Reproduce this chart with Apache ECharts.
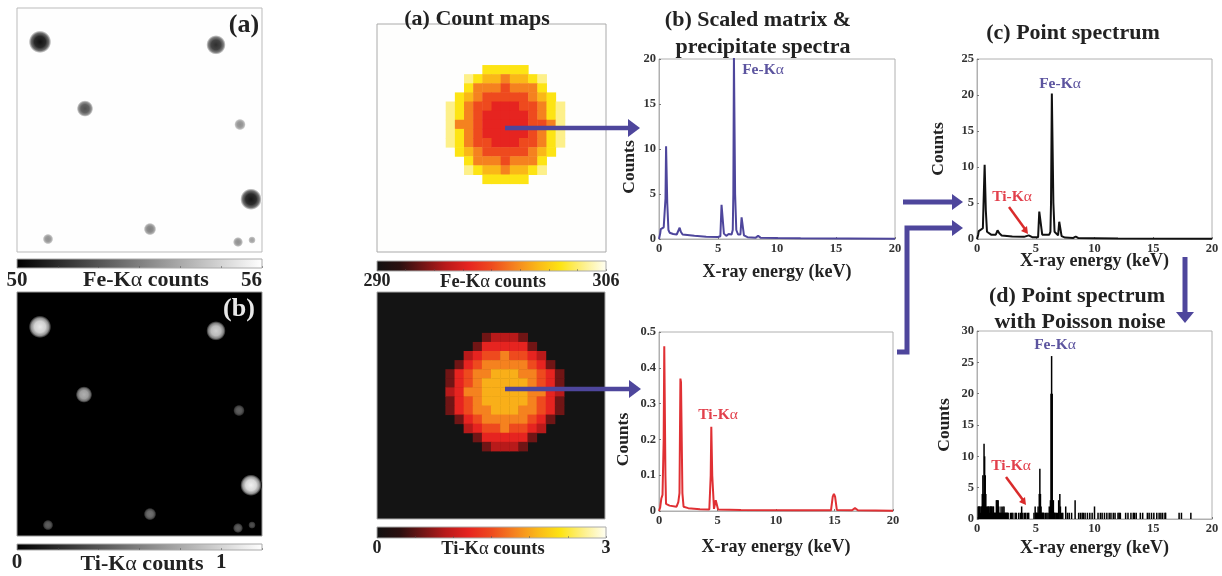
<!DOCTYPE html>
<html><head><meta charset="utf-8">
<style>html,body{margin:0;padding:0;background:#fff}#c{width:1222px;height:576px;filter:blur(0.4px)}</style>
<script src="https://cdn.jsdelivr.net/npm/echarts@6/dist/echarts.min.js"></script>
</head><body><div id="c"></div>
<script>
// ---------- data ----------
// precipitates of the two gray maps: [x, y, radius, peak counts]
const feBlobs = [[23,34,10.5,50.4],[199,37,9,51.1],[68,101,7.5,51.9],[223,117,5,53.4],[234,192,10,50.5],[133,222,5.5,53],[31,232,4.5,53.4],[221,235,4.3,53.4],[235,233,3,53.8]];
const tiBlobs = [[23,35,10.5,1.09],[199,39,9,0.98],[67,103,7.5,0.83],[222,119,5,0.45],[234,194,10,1.13],[133,223,5.5,0.53],[31,234,4.5,0.45],[221,237,4.3,0.45],[235,234,3,0.38]];
// 13x13 count cells around the precipitate (_ = background)
const _ = null, R=296.4, S=298, O=299.6, G=301.2, Y=302.8, P=304.4;
const feRows = [
 [_,_,_,_,Y,Y,Y,Y,Y,_,_,_,_],
 [_,_,P,Y,G,G,O,G,G,Y,P,_,_],
 [_,_,Y,O,O,O,S,O,O,O,Y,_,_],
 [_,Y,G,O,S,S,S,S,S,O,G,Y,_],
 [P,Y,O,S,S,R,R,R,S,S,O,Y,P],
 [P,Y,O,S,R,R,R,R,R,S,O,Y,P],
 [P,O,O,S,R,R,R,R,R,S,S,O,P],
 [P,Y,O,S,R,R,R,R,R,S,O,Y,P],
 [P,Y,O,S,S,R,R,R,S,S,O,Y,P],
 [_,Y,G,O,S,S,S,S,S,O,G,Y,_],
 [_,_,Y,O,O,O,S,O,O,O,Y,_,_],
 [_,_,P,Y,G,G,O,G,G,Y,P,_,_],
 [_,_,_,_,Y,Y,Y,Y,Y,_,_,_,_]];
const d=0.6, m=0.9, r=1.2, s=1.5, o=1.8, g=2.05;
const tiRows = [
 [_,_,_,_,d,m,m,m,d,_,_,_,_],
 [_,_,_,d,r,r,r,r,r,d,_,_,_],
 [_,_,m,r,s,s,o,s,s,r,m,_,_],
 [_,d,r,s,o,o,o,o,o,s,r,d,_],
 [d,r,s,o,o,g,g,g,o,o,s,r,d],
 [d,r,s,o,g,g,g,g,g,o,s,r,d],
 [m,r,o,o,g,g,g,g,g,o,o,r,m],
 [d,r,s,o,g,g,g,g,g,o,s,r,d],
 [d,r,s,o,o,g,g,g,o,o,s,r,d],
 [_,d,r,s,o,o,o,o,o,s,r,d,_],
 [_,_,m,r,s,s,o,s,s,r,m,_,_],
 [_,_,_,d,r,r,r,r,r,d,_,_,_],
 [_,_,_,_,d,m,m,m,d,_,_,_,_]];
const hotColors = ['#111111','#2a0f0f','#701515','#b81a1a','#e62420','#ee4a1e','#f5821f','#fab818','#fde414','#fdf08a','#fffff5'];

const feEnergy = [0,0.1,0.15,0.3,0.4,0.5,0.55,0.6,0.7,0.8,0.9,1.2,1.5,1.65,1.75,1.85,2,3,4,5,5.2,5.3,5.4,5.5,5.7,5.9,6,6.15,6.25,6.3,6.35,6.4,6.45,6.55,6.7,6.9,7,7.1,7.2,7.5,8.2,8.4,8.6,10,12,20];
const feCounts = [0,0.6,1.1,1,1.3,1.5,4.5,10.3,4,1,0.7,0.55,0.5,0.6,1.25,0.8,0.5,0.35,0.25,0.22,0.3,3.8,3.8,0.6,0.35,0.55,0.6,0.5,1,5,20.2,20.2,5,1,0.5,0.5,2.4,2.4,0.4,0.2,0.15,0.35,0.15,0.12,0.08,0.03];
const tiEnergy = [0,0.1,0.2,0.3,0.35,0.4,0.45,0.5,0.55,0.6,0.9,1.5,1.65,1.75,1.83,1.88,2,2.1,2.5,3.5,4.3,4.42,4.47,4.55,4.7,4.85,4.95,5.05,7,12,14.7,14.85,14.95,15.05,15.2,16.5,16.75,17,20];
const tiCounts = [0,0.01,0.035,0.045,0.05,0.2,0.46,0.46,0.1,0.02,0.015,0.012,0.025,0.05,0.37,0.36,0.05,0.012,0.008,0.005,0.004,0.1,0.235,0.1,0.006,0.03,0.025,0.004,0.003,0.002,0.002,0.04,0.048,0.04,0.003,0.002,0.008,0.002,0.001];
const ptEnergy = [0,0.1,0.15,0.3,0.5,0.55,0.65,0.75,0.85,1.2,1.6,1.75,1.9,2.1,3,4,4.4,4.5,4.7,5.2,5.3,5.45,5.55,5.9,6.15,6.25,6.3,6.37,6.43,6.5,6.6,6.9,7,7.1,7.2,7.5,8.2,8.4,8.6,10,12,20];
const ptCounts = [0,0.6,1.1,1,1.5,4.5,10.3,4,1,0.6,0.6,1.2,0.8,0.5,0.35,0.3,0.5,0.5,0.25,0.25,3.8,3.8,0.6,0.6,0.6,1,5,20.2,20.2,5,1,0.5,2.4,2.4,0.4,0.2,0.15,0.35,0.15,0.12,0.08,0.02];
const noisyEnergy = [0.1,0.15,0.2,0.25,0.3,0.35,0.4,0.45,0.5,0.55,0.6,0.65,0.7,0.75,0.8,0.85,0.9,0.95,1,1.05,1.1,1.15,1.2,1.25,1.3,1.35,1.4,1.45,1.5,1.55,1.6,1.65,1.7,1.75,1.8,1.85,1.9,1.95,2,2.05,2.1,2.15,2.2,2.25,2.3,2.35,2.4,2.45,2.5,2.55,2.6,2.65,2.85,2.95,3.05,3.25,3.35,3.55,3.7,3.8,3.9,4.05,4.15,4.3,4.4,4.85,4.95,5,5.05,5.1,5.15,5.2,5.25,5.3,5.35,5.4,5.45,5.5,5.55,5.6,5.65,5.7,5.85,5.95,6.05,6.15,6.25,6.3,6.35,6.4,6.45,6.5,6.55,6.6,6.65,6.75,6.85,6.95,7.05,7.1,7.2,7.3,7.55,7.7,7.85,8.05,8.35,8.65,8.8,8.95,9.05,9.2,9.4,9.6,9.8,10,10.3,10.5,10.65,10.85,11.05,11.25,11.4,11.6,11.75,12,12.1,12.2,12.65,12.85,13.1,13.3,13.4,13.55,13.9,14.1,14.5,14.65,14.85,15.05,15.3,15.5,15.65,15.8,16,16.05,17.2,17.4,18.2,18.3,18.45];
const noisyCounts = [2,2,2,2,1,2,2,4,7,4,12,10,7,4,2,1,2,2,2,1,2,2,2,2,1,2,2,1,1,1,1,3,3,3,3,2,1,1,1,2,1,1,2,1,2,1,1,1,1,1,1,1,1,1,1,1,1,1,1,2,1,1,1,1,1,1,2,1,1,1,1,2,1,4,8,4,2,1,1,1,1,1,1,1,1,2,3,20,26,20,3,3,1,1,1,1,1,3,4,2,1,1,2,1,1,1,3,1,1,1,1,1,1,1,1,2,1,1,1,1,1,1,1,1,1,1,1,1,1,1,1,1,1,1,1,1,1,1,1,1,1,1,1,1,1,1,1,1,1];

// ---------- helpers ----------
const FONT = '"Liberation Serif","Times New Roman",serif';
const INK = '#222';
const PURPLE = '#4e469c', LABELBLUE = '#5c549f', LABELRED = '#e2404c';
const pair = (a,b) => a.map((v,i)=>[v,b[i]]);
const grid=[], xAxis=[], yAxis=[], series=[], visualMap=[];
const alpha = size => ({a:{fontFamily:FONT,fontSize:size,fontWeight:'normal',color:INK}});

function addGrid(g){ grid.push(Object.assign({show:true,borderWidth:1,containLabel:false},g)); return grid.length-1; }

function colorbar(box,min,max,step,name,colors,fs,nameFs,shift,gap,nameGap){
  const gi = addGrid({left:box[0],top:box[1],width:box[2],height:box[3],borderColor:'#aaa',
    backgroundColor:new echarts.graphic.LinearGradient(0,0,1,0,colors.map((c,i)=>({offset:i/(colors.length-1),color:c})))});
  const labels = box[4];
  xAxis.push({gridIndex:gi,type:'value',min,max,interval:step,position:'bottom',
    axisLine:{show:false},splitLine:{show:false},
    axisTick:{show:true,inside:true,length:2,lineStyle:{color:'rgba(80,80,80,0.5)',width:1}},
    axisLabel:{show:true,margin:gap,fontFamily:FONT,fontWeight:'bold',fontSize:fs,color:INK,
      customValues:labels,alignMaxLabel:box[5]||'center',alignMinLabel:'center',hideOverlap:false},
    name,nameLocation:'middle',nameGap,nameMoveOverlap:false,
    nameTextStyle:{fontFamily:FONT,fontWeight:'bold',fontSize:nameFs,color:INK,rich:alpha(nameFs),
      padding:[0,0,0,shift]}});
  yAxis.push({gridIndex:gi,type:'value',show:false,min:0,max:1});
}

function grayMap(box,bg,border,blobs,lo,hi){
  const gi = addGrid({left:box[0],top:box[1],width:box[2],height:box[3],backgroundColor:bg,borderColor:border});
  xAxis.push({gridIndex:gi,type:'value',min:0,max:245,show:false});
  yAxis.push({gridIndex:gi,type:'value',min:0,max:245,inverse:true,show:false});
  const bgv = bg==='#000000' ? 0 : 254;
  series.push({type:'scatter',xAxisIndex:gi,yAxisIndex:gi,symbol:'circle',silent:true,
    symbolSize:v=>v[2]*2+1.5,
    data:blobs.map(b=>{
      const g=Math.round((b[3]-lo)/(hi-lo)*255), c=x=>`rgb(${x},${x},${x})`, mix=t=>Math.round(g+(bgv-g)*t);
      return {value:b,itemStyle:{opacity:1,color:new echarts.graphic.RadialGradient(0.5,0.5,0.5,[
        {offset:0,color:c(g)},{offset:0.5,color:c(mix(0.1))},{offset:0.78,color:c(mix(0.38))},{offset:0.92,color:c(mix(0.75))},{offset:1,color:c(bgv)}])}};
    })});
}

function cellMap(box,bg,rows,min,max){
  const gi = addGrid({left:box[0],top:box[1],width:box[2],height:box[3],backgroundColor:bg,borderColor:'#aaa'});
  xAxis.push({gridIndex:gi,type:'value',min:0,max:25,show:false});
  yAxis.push({gridIndex:gi,type:'value',min:0,max:25,inverse:true,show:false});
  const cells=[];
  rows.forEach((row,j)=>row.forEach((v,i)=>{ if(v!==null) cells.push([8+i,5+j,v]); }));
  series.push({type:'custom',xAxisIndex:gi,yAxisIndex:gi,silent:true,data:cells,
    encode:{x:0,y:1},
    renderItem:(p,api)=>{
      const c=api.coord([api.value(0),api.value(1)]), sz=api.size([1,1]);
      return {type:'rect',shape:{x:c[0]-sz[0]/2,y:c[1]-sz[1]/2,width:sz[0]+0.5,height:sz[1]+0.5},
        style:{fill:api.visual('color')}};
    }});
  visualMap.push({show:false,seriesIndex:series.length-1,dimension:2,min,max,inRange:{color:hotColors}});
}

function spectrum(box,ymax,ystep,xgap,ygap,yshift,lineData,color,isBar){
  const gi = addGrid({left:box[0],top:box[1],width:box[2],height:box[3],borderColor:'#b0b0b0',backgroundColor:'#fff'});
  const tick={show:true,inside:true,length:2,lineStyle:{color:'#777',width:1}};
  const lab={fontFamily:FONT,fontWeight:'bold',fontSize:12.5,color:'#333'};
  xAxis.push({gridIndex:gi,type:'value',min:0,max:20,interval:5,position:'bottom',
    axisLine:{show:true,lineStyle:{color:'#b0b0b0'}},axisTick:tick,splitLine:{show:false},
    axisLabel:Object.assign({margin:3,showMinLabel:true,showMaxLabel:true,hideOverlap:false},lab),
    name:'X-ray energy (keV)',nameLocation:'middle',nameGap:xgap,nameMoveOverlap:false,
    nameTextStyle:{fontFamily:FONT,fontWeight:'bold',fontSize:18,color:INK}});
  yAxis.push({gridIndex:gi,type:'value',min:0,max:ymax,interval:ystep,position:'left',
    axisLine:{show:true,lineStyle:{color:'#b0b0b0'}},axisTick:tick,splitLine:{show:false},
    axisLabel:Object.assign({margin:3,showMinLabel:true,showMaxLabel:true,hideOverlap:false},lab),
    name:'Counts',nameLocation:'middle',nameGap:ygap,nameRotate:90,nameMoveOverlap:false,
    nameTextStyle:{fontFamily:FONT,fontWeight:'bold',fontSize:17.5,color:INK,padding:[0,yshift*2,0,0]}});
  series.push(isBar ? {type:'bar',xAxisIndex:gi,yAxisIndex:gi,data:lineData,barWidth:1.5,silent:true,
      itemStyle:{color}}
    : {type:'line',xAxisIndex:gi,yAxisIndex:gi,data:lineData,showSymbol:false,silent:true,
      lineStyle:{color,width:2},clip:true});
}

// ---------- panels ----------
const grayColors=['#000000','#ffffff'];
grayMap([17,8,245,244],'#fefefe','#bbbbbb',feBlobs,50,56);
colorbar([17,259,245,9,[50,56],'right'],50,56,1,'Fe-K{a|α} counts',grayColors,21,22,13,2,1);
grayMap([17,292,245,244],'#000000','#999999',tiBlobs,0,1.2);
colorbar([17,544,245,9,[0,1]],0,1.2,0.2,'Ti-K{a|α} counts',grayColors,21,22,5,2,3);

cellMap([377,24,229,228],'#fefefd',feRows,290,306);
colorbar([377,261,229,10,[290,306]],290,306,2,'Fe-K{a|α} counts',hotColors,18,18.5,3,1,2);
cellMap([377,292,228,227],'#141414',tiRows,0,3);
colorbar([377,527,229,11,[0,3]],0,3,0.5,'Ti-K{a|α} counts',hotColors,18,18.5,3,1,2);

spectrum([659,59,236,180],20,5,24,21,18,pair(feEnergy,feCounts),'#4e469c');
spectrum([659,332,234,179],0.5,0.1,27,27,18,pair(tiEnergy,tiCounts),'#e03034');
spectrum([977,59,235,180],25,5,13,30,0,pair(ptEnergy,ptCounts),'#111111');
spectrum([977,331,235,188],30,5,20,24,0,pair(noisyEnergy,noisyCounts),'#000000',true);

// ---------- text and arrows ----------
const txt=(text,x,y,size,color,extra)=>({type:'text',z:100,silent:true,style:Object.assign({text,x,y,align:'center',verticalAlign:'middle',
   fontFamily:FONT,fontWeight:'bold',fontSize:size,fill:color||INK,
   rich:{a:{fontFamily:FONT,fontSize:size,fontWeight:'normal',fill:color||INK}}},extra||{})});
const line=(pts,color,w)=>({type:'polyline',z:90,silent:true,shape:{points:pts},style:{stroke:color,lineWidth:w,fill:null}});
const head=(pts,color)=>({type:'polygon',z:90,silent:true,shape:{points:pts},style:{fill:color}});

const graphic=[
  txt('(a)',244,25,26), txt('(b)',239,309,26,'#e8e8e8'),
  txt('(a) Count maps',477,19,22),
  txt('(b) Scaled matrix &',758,20,22), txt('precipitate spectra',763,47,22),
  txt('(c) Point spectrum',1073,33,22),
  txt('(d) Point spectrum',1077,296,22), txt('with Poisson noise',1080,322,22),
  txt('Fe-K{a|α}',763,70,15.5,LABELBLUE), txt('Ti-K{a|α}',718,415,15.5,LABELRED),
  txt('Fe-K{a|α}',1060,84,15.5,LABELBLUE), txt('Ti-K{a|α}',1012,197,15.5,LABELRED),
  txt('Fe-K{a|α}',1055,345,15.5,LABELBLUE), txt('Ti-K{a|α}',1011,466,15.5,LABELRED),
  line([[505,128],[629,128]],PURPLE,4.5), head([[628,119],[640,128],[628,137]],PURPLE),
  line([[505,389],[630,389]],PURPLE,4.5), head([[629,380],[641,389],[629,398]],PURPLE),
  line([[903,202],[953,202]],PURPLE,5), head([[952,194],[963,202],[952,210]],PURPLE),
  line([[897,352],[907,352],[907,228],[953,228]],PURPLE,5), head([[952,220],[963,228],[952,236]],PURPLE),
  line([[1185,257],[1185,313]],PURPLE,5), head([[1176,312],[1185,323],[1194,312]],PURPLE),
  line([[1009,207],[1025,229]],'#d92b2b',2.5), head([[1021,231],[1028,234],[1027,226]],'#d92b2b'),
  line([[1006,477],[1023,500]],'#d92b2b',2.5), head([[1019,502],[1026,505],[1025,497]],'#d92b2b')
];

const chart=echarts.init(document.getElementById('c'),null,{renderer:'canvas'});
chart.setOption({animation:false,backgroundColor:'#ffffff',tooltip:{show:false},grid,xAxis,yAxis,series,visualMap,graphic});
</script></body></html>
